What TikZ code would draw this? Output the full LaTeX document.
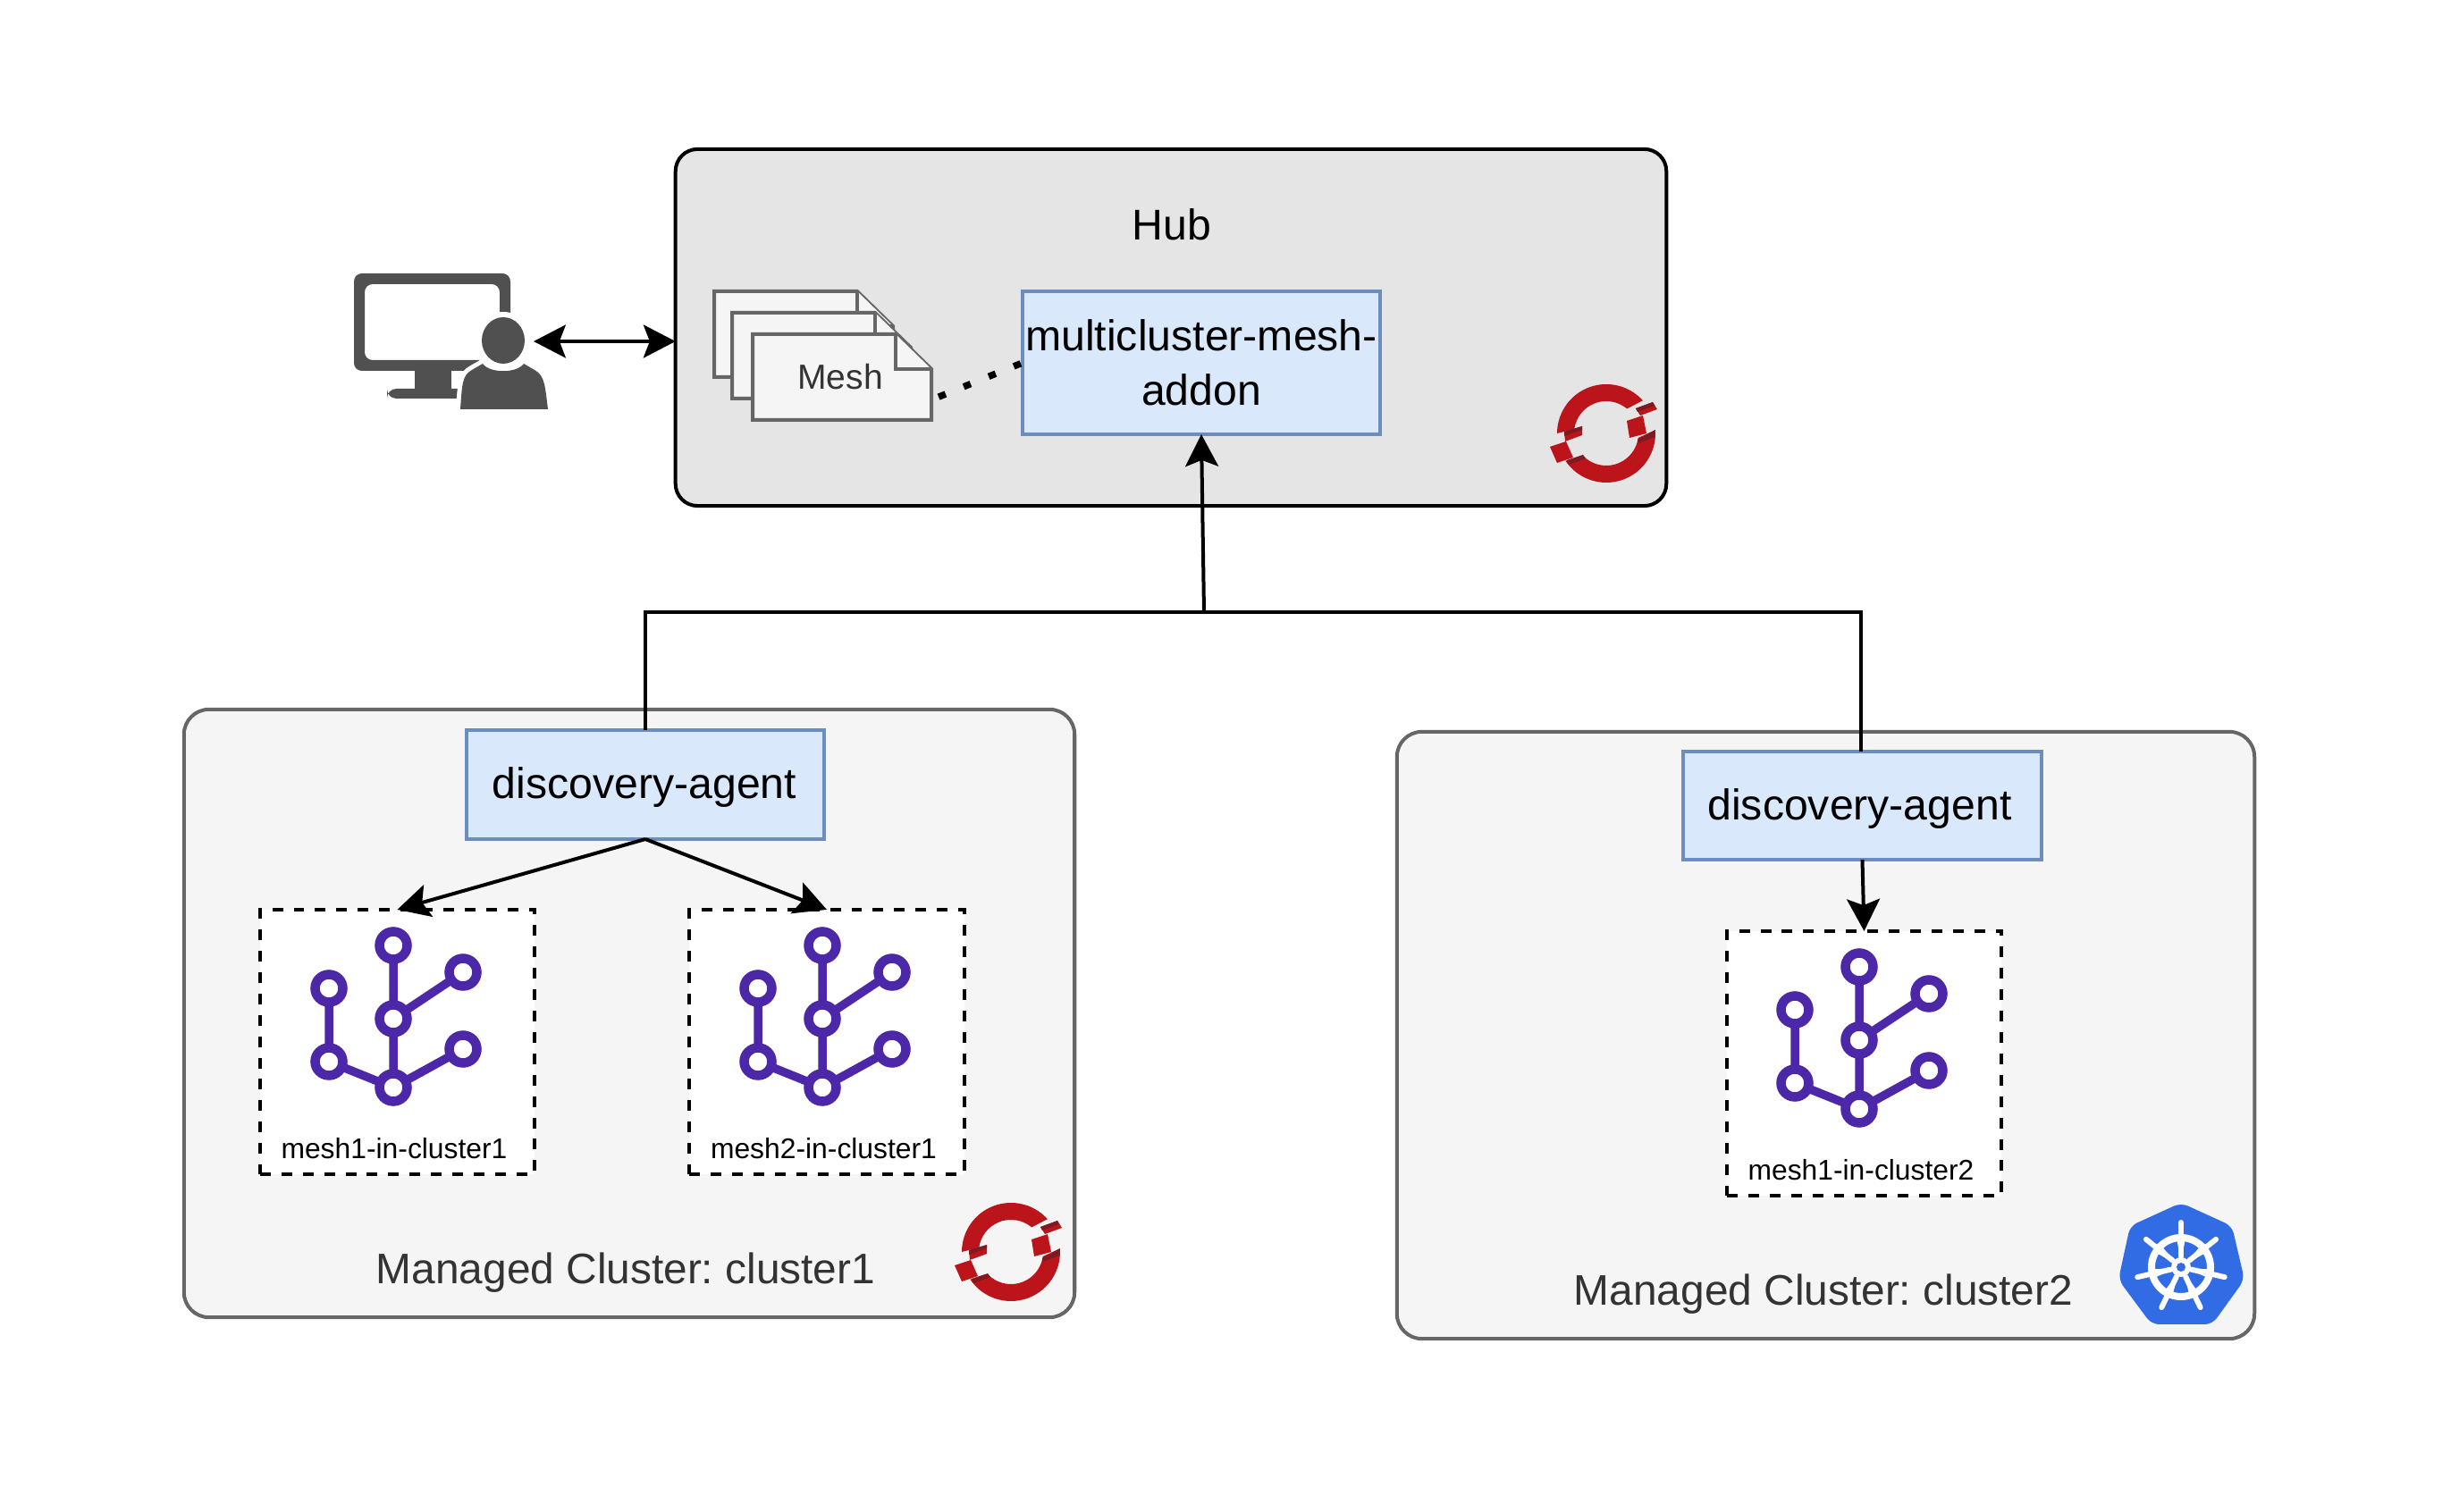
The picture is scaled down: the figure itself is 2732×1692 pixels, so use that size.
\documentclass[tikz,border=0pt]{standalone}
\usepackage{fontspec}
\setmainfont{Liberation Sans}
\usetikzlibrary{arrows.meta}
\definecolor{ocpred}{HTML}{BB141A}
\definecolor{ocpdark}{HTML}{7F1A20}
\definecolor{k8sblue}{HTML}{326CE5}
\definecolor{meshpurple}{HTML}{4C28A8}
\definecolor{usergray}{HTML}{505050}
\definecolor{boxfill}{HTML}{DAE8FC}
\definecolor{boxline}{HTML}{6C8EBF}
\tikzset{
  px/.style={line width=#1*0.2845pt},
  hubbox/.style={draw=black,fill=black!10,px=4,rounded corners=7pt,inner sep=0pt,outer sep=0pt},
  clusterbox/.style={draw=black!60,fill=black!4,px=4,rounded corners=8pt,inner sep=0pt,outer sep=0pt},
  agentbox/.style={draw=boxline,fill=boxfill,px=4,inner sep=0pt,outer sep=0pt,align=center,text=black},
  meshbox/.style={draw=black,fill=white,px=4,dash pattern=on 3.4pt off 3.4pt,inner sep=0pt,outer sep=0pt},
  bigtext/.style={font=\fontsize{13.7pt}{17.4pt}\selectfont,inner sep=0pt},
  clustertext/.style={font=\fontsize{13.6pt}{17pt}\selectfont,inner sep=0pt,text=black!80},
  smalltext/.style={font=\fontsize{9.05pt}{11pt}\selectfont,inner sep=0pt},
  conn/.style={draw=black,px=4},
  arrowtip/.style={-{Stealth[length=10.2pt,width=10.5pt,inset=2pt]}},
  doublearrow/.style={{Stealth[length=10.2pt,width=10.5pt,inset=2pt]}-{Stealth[length=10.2pt,width=10.5pt,inset=2pt]}},
  docpage/.style={draw=black!60,fill=black!4,px=4,line join=miter},
}
\newcommand{\drawpage}[2]{%
  \begin{scope}[shift={(#1,#2)}]
    \path[docpage] (0,0) -- (160,0) -- (200,39) -- (200,96) -- (0,96) -- cycle;
    \path[docpage] (160,0) -- (160,39) -- (200,39);
  \end{scope}}
\newcommand{\meshicon}[2]{%
  \begin{scope}[shift={(#1,#2)}]
    \draw[meshpurple,px=9.5] (149,40) -- (149,199) (149,122) -- (227,70) (149,199) -- (227,156) (149,199) -- (77,170) -- (77,88);
    \foreach \cx/\cy in {149/40,227/70,77/88,149/122,227/156,77/170,149/199}
      \draw[meshpurple,fill=white,px=10.5] (\cx,\cy) circle[radius=15.5];
  \end{scope}}
\newcommand{\ocplogo}[2]{%
  \begin{scope}[shift={(#1,#2)}]
    \fill[ocpred] plot[domain=180:318,samples=40] ({55*cos(\x)},{55*sin(\x)}) -- plot[domain=310:188,samples=40] ({36*cos(\x)},{36*sin(\x)}) -- cycle;
    \fill[ocpred] plot[domain=146:-4,samples=40] ({55*cos(\x)},{55*sin(\x)}) -- plot[domain=8:137,samples=40] ({36*cos(\x)},{36*sin(\x)}) -- cycle;
    \fill[ocpred] (33,-28) -- (52,-35) -- (57,-27) -- (38,-20) -- cycle;
    \fill[ocpdark] (33,-28) -- (52,-35) -- (54,-31) -- (35,-24) -- cycle;
    \fill[ocpred] (23,-14) -- (41,-20) -- (45,0) -- (26,5) -- cycle;
    \fill[ocpdark] (35,7) -- (55,-4) -- (54,4) -- (36,11) -- cycle;
    \fill[ocpred] (-47,-2) -- (-27,-8) -- (-27,2) -- (-46,9) -- cycle;
    \fill[ocpdark] (-47,-2) -- (-27,-8) -- (-27,-4) -- (-47,3) -- cycle;
    \fill[ocpred] (-63,15) -- (-45,9) -- (-37,27) -- (-55,33) -- cycle;
    \fill[ocpdark] (-44,30) -- (-26,24) -- (-23,28) -- (-42,35) -- cycle;
  \end{scope}}
\begin{document}
\frenchspacing
\begin{tikzpicture}[x=0.01cm,y=-0.01cm]
\useasboundingbox (0,0) rectangle (2732,1692);
% containers
\node[hubbox,minimum width=1108*0.2845pt,minimum height=399*0.2845pt] (hub) at (1310,366.5) {};
\node[clusterbox,minimum width=996*0.2845pt,minimum height=680*0.2845pt] (c1) at (704,1134) {};
\node[clusterbox,minimum width=959*0.2845pt,minimum height=679*0.2845pt] (c2) at (2042.5,1158.5) {};
\node[bigtext,text=black] (hubl) at (1311,251) {Hub};
\node[clustertext] (c1l) at (700,1424) {Managed Cluster: cluster1};
\node[clustertext] (c2l) at (2040,1448) {Managed Cluster: cluster2};
% documents
\drawpage{799}{326}
\drawpage{819}{350}
\drawpage{842}{374}
\node[font=\fontsize{11.1pt}{13pt}\selectfont,text=black!80,inner sep=0pt] (meshdoc) at (940,422) {Mesh};
\coordinate (docright) at (1042,441);
% main boxes
\node[agentbox,bigtext,minimum width=400*0.2845pt,minimum height=160*0.2845pt] (addon) at (1344,406) {multicluster-mesh-\\addon};
\node[agentbox,minimum width=400*0.2845pt,minimum height=122*0.2845pt] (agent1) at (722,878) {};
\node[agentbox,minimum width=401*0.2845pt,minimum height=121*0.2845pt] (agent2) at (2083.5,901.5) {};
\node[bigtext] (agent1l) at (721,881) {discovery-agent};
\node[bigtext] (agent2l) at (2080.5,905) {discovery-agent};
% mesh boxes
\node[meshbox,minimum width=307*0.2845pt,minimum height=296*0.2845pt] (m1) at (444.5,1166) {};
\node[meshbox,minimum width=307*0.2845pt,minimum height=296*0.2845pt] (m2) at (925,1166) {};
\node[meshbox,minimum width=307*0.2845pt,minimum height=296*0.2845pt] (m3) at (2085.5,1190) {};
\meshicon{291}{1018}
\meshicon{771}{1018}
\meshicon{1931}{1042}
\node[smalltext] (m1l) at (441,1285) {mesh1-in-cluster1};
\node[smalltext] (m2l) at (921.5,1285) {mesh2-in-cluster1};
\node[smalltext] (m3l) at (2082,1309) {mesh1-in-cluster2};
% connectors
\coordinate (junction) at (1347,685);
\draw[conn] (agent1.north) |- (junction);
\draw[conn] ([xshift=-0.4pt]agent2.north) |- (junction);
\draw[conn,arrowtip] (junction) -- (addon.south);
\draw[conn,arrowtip] (agent1.south) -- (m1.north);
\draw[conn,arrowtip] (agent1.south) -- (m2.north);
\draw[conn,arrowtip] (agent2.south) -- (m3.north);
\draw[draw=black,px=7.5,dash pattern=on 2.4pt off 6.2pt] ([xshift=2.3pt,yshift=-0.9pt]docright) -- (addon.west);
% user icon
\fill[usergray,even odd rule,rounded corners=2.5pt] (396,306) rectangle (571,415) (408,318) rectangle (559,403);
\fill[usergray] (464,412) -- (505,412) -- (505,440) -- (464,440) -- cycle;
\fill[usergray,rounded corners=3pt] (433,435) rectangle (525,446);
\fill[white] (563,381) ellipse[x radius=31,y radius=32];
\path[draw=white,fill=white,px=10] (515,458) .. controls (517,430) and (517,420) .. (528,414) -- (540,407) .. controls (548,418) and (578,418) .. (586,407) -- (598,414) .. controls (610,420) and (610,435) .. (613,458) -- cycle;
\fill[usergray] (515,458) .. controls (517,430) and (517,420) .. (528,414) -- (540,407) .. controls (548,418) and (578,418) .. (586,407) -- (598,414) .. controls (610,420) and (610,435) .. (613,458) -- cycle;
\fill[usergray] (563,381) ellipse[x radius=24,y radius=26];
\coordinate (user) at (597,382);
\draw[conn,doublearrow] (user) -- (user -| hub.west);
% logos
\ocplogo{1797}{485}
\ocplogo{1131}{1401}
\begin{scope}[shift={(2440,1418)}]
  \fill[k8sblue,rounded corners=2.4pt] (0,-72) -- (57,-46) -- (71,14) -- (35,64) -- (-33,64) -- (-70,14) -- (-57,-46) -- cycle;
  \draw[white,px=8] (0,0) circle[radius=33];
  \foreach \a in {-90,-38.57,12.86,64.29,115.71,167.14,218.57}{
    \draw[white,px=6,line cap=round] ({12*cos(\a)},{12*sin(\a)}) -- ({50*cos(\a)},{50*sin(\a)});
    \fill[white] ({7*cos(\a)},{7*sin(\a)}) -- ({32*cos(\a)+5*cos(\a+90)},{32*sin(\a)+5*sin(\a+90)}) -- ({32*cos(\a)-5*cos(\a+90)},{32*sin(\a)-5*sin(\a+90)}) -- cycle;
  }
  \fill[white] (0,0) circle[radius=11];
  \fill[k8sblue] (0,0) circle[radius=5];
\end{scope}
\end{tikzpicture}
\end{document}
